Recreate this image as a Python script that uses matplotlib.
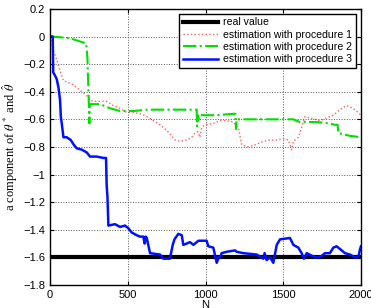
import numpy as np
import matplotlib.pyplot as plt
from matplotlib.ticker import FuncFormatter

# real value
real_value = -1.6

# procedure 1 (red dotted)
n1 = [0, 21, 43, 64, 86, 107, 150, 193, 236, 257, 279, 321, 364, 407, 450, 493, 536, 579,
      622, 664, 707, 750, 782, 803, 836, 879, 911, 932, 950, 964, 975, 996, 1050, 1093,
      1136, 1179, 1211, 1232, 1265, 1308, 1372, 1415, 1458, 1500, 1533, 1554, 1565, 1597,
      1618, 1640, 1672, 1736, 1779, 1822, 1865, 1907, 1929, 1961, 2000]
p1 = [0, -0.10, -0.17, -0.25, -0.32, -0.33, -0.35, -0.39, -0.43, -0.46, -0.47, -0.47, -0.47,
      -0.50, -0.52, -0.55, -0.55, -0.56, -0.58, -0.61, -0.64, -0.68, -0.72, -0.75, -0.76,
      -0.75, -0.73, -0.70, -0.69, -0.73, -0.66, -0.64, -0.63, -0.61, -0.61, -0.62, -0.66,
      -0.78, -0.80, -0.79, -0.76, -0.75, -0.75, -0.74, -0.75, -0.82, -0.76, -0.73, -0.66,
      -0.58, -0.59, -0.61, -0.59, -0.57, -0.53, -0.50, -0.51, -0.53, -0.57]

# procedure 2 (green dash-dot)
n2 = [0, 64, 107, 150, 204, 232, 240, 250, 253, 255, 257, 321, 386, 450, 536, 622, 943,
      946, 950, 952, 964, 1072, 1179, 1192, 1196, 1200, 1222, 1393, 1565, 1608, 1715,
      1800, 1833, 1850, 1854, 1929, 2000]
p2 = [0, -0.005, -0.01, -0.02, -0.04, -0.05, -0.15, -0.51, -0.63, -0.49, -0.49, -0.49,
      -0.52, -0.54, -0.54, -0.53, -0.53, -0.65, -0.57, -0.62, -0.57, -0.57, -0.56, -0.56,
      -0.67, -0.60, -0.60, -0.60, -0.60, -0.62, -0.62, -0.63, -0.64, -0.64, -0.70, -0.72,
      -0.73]

# procedure 3 (blue solid)
n3 = [0, 17, 20, 35, 43, 54, 64, 69, 75, 86, 107, 133, 150, 171, 204, 236, 257, 300, 343,
      360, 364, 369, 375, 418, 450, 482, 504, 525, 557, 579, 600, 608, 615, 622, 643, 707,
      729, 771, 789, 800, 825, 847, 857, 879, 900, 922, 954, 1007, 1018, 1050, 1072, 1085,
      1093, 1104, 1136, 1190, 1200, 1243, 1329, 1372, 1380, 1393, 1415, 1436, 1458, 1479,
      1543, 1565, 1597, 1618, 1633, 1651, 1704, 1726, 1747, 1768, 1800, 1822, 1843, 1876,
      1897, 1929, 1961, 1983, 1994, 2000]
p3 = [0, 0, -0.26, -0.29, -0.31, -0.37, -0.46, -0.58, -0.63, -0.73, -0.73, -0.75, -0.78,
      -0.81, -0.82, -0.84, -0.87, -0.87, -0.88, -0.88, -1.08, -1.16, -1.37, -1.36, -1.38,
      -1.37, -1.39, -1.42, -1.44, -1.45, -1.45, -1.50, -1.45, -1.46, -1.57, -1.58, -1.61,
      -1.61, -1.51, -1.47, -1.43, -1.44, -1.51, -1.50, -1.49, -1.51, -1.48, -1.48, -1.52,
      -1.53, -1.64, -1.60, -1.60, -1.57, -1.56, -1.55, -1.56, -1.57, -1.58, -1.61, -1.57,
      -1.62, -1.60, -1.64, -1.51, -1.47, -1.46, -1.51, -1.53, -1.57, -1.61, -1.57, -1.60,
      -1.60, -1.59, -1.57, -1.57, -1.53, -1.52, -1.55, -1.57, -1.58, -1.60, -1.60, -1.54,
      -1.52]

plt.rcParams['font.family'] = ['Liberation Sans', 'DejaVu Sans']
plt.rcParams['mathtext.fontset'] = 'stix'

fig = plt.figure(figsize=(3.71, 3.08), dpi=100)
ax = fig.add_axes([0.135, 0.075, 0.838, 0.896])

ax.axhline(real_value, color='black', linewidth=3, label='real value')
ax.plot(n1, p1, color='#ff6060', linestyle=':', linewidth=1, label='estimation with procedure 1')
ax.plot(n2, p2, color='#00e000', linestyle='-.', linewidth=1.5, label='estimation with procedure 2')
ax.plot(n3, p3, color='#0010ff', linestyle='-', linewidth=1.8, label='estimation with procedure 3')

ax.set_xlim(0, 2000)
ax.set_ylim(-1.8, 0.2)
ax.set_xticks([0, 500, 1000, 1500, 2000])
ax.set_yticks(np.arange(-1.8, 0.21, 0.2))


def fmt(v, pos):
    v = round(v, 1)
    if abs(v) < 1e-9:
        return '0'
    return ('%g' % v).replace('-', '\u2212')


ax.yaxis.set_major_formatter(FuncFormatter(fmt))
ax.tick_params(direction='in', labelsize=8, length=3, top=True, right=True)
ax.grid(True, linestyle=':', color='#555555', linewidth=0.7)
for s in ax.spines.values():
    s.set_linewidth(1)

ax.set_xlabel('N', fontsize=8, labelpad=0)
ax.set_ylabel(r'a component of $\theta^*$ and $\hat{\theta}$', fontsize=9,
              family='Liberation Serif', labelpad=2)

ax.legend(loc='upper right', fontsize=7.6, handlelength=3.3, fancybox=False,
          edgecolor='black', framealpha=1, borderpad=0.35, labelspacing=0.22,
          handletextpad=0.5, borderaxespad=0.2, bbox_to_anchor=(0.99, 0.99))

fig.savefig('out.png', dpi=100)
